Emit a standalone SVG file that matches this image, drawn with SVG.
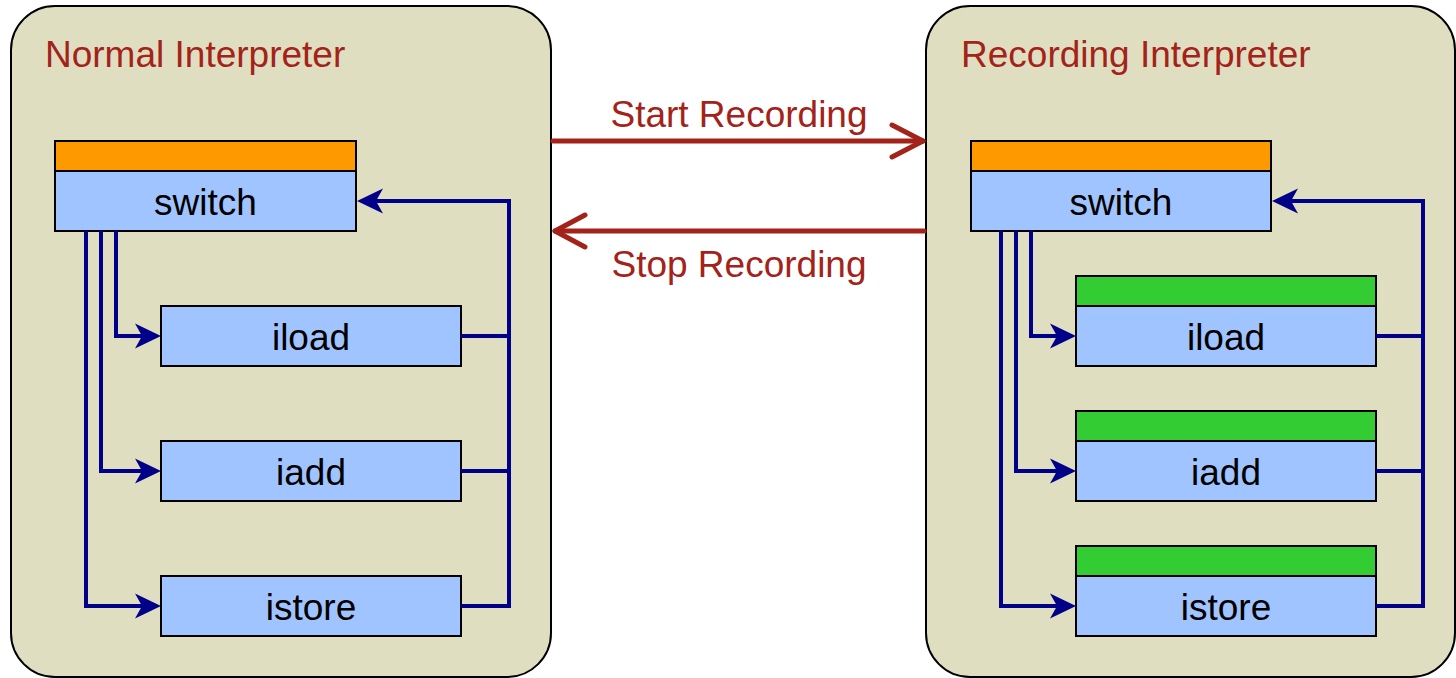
<svg xmlns="http://www.w3.org/2000/svg" width="1456" height="678" viewBox="0 0 1456 678">
  <defs>
    <style>
      .panel { fill: #E0DEC0; stroke: #000; stroke-width: 2; }
      .title { font-family: "Liberation Sans", Arial, sans-serif; font-size: 37px; fill: #A3231A; }
      .body { fill: #A0C4FF; stroke: #000; stroke-width: 2; }
      .hdr-orange { fill: #FF9900; stroke: #000; stroke-width: 2; }
      .hdr-green { fill: #33CC33; stroke: #000; stroke-width: 2; }
      .label { font-family: "Liberation Sans", Arial, sans-serif; font-size: 37px; fill: #000; text-anchor: middle; }
      .flow { fill: none; stroke: #000088; stroke-width: 4; }
      .mode { fill: none; stroke: #A3231A; stroke-width: 5; stroke-linecap: round; stroke-linejoin: round; }
      .mode-label { font-family: "Liberation Sans", Arial, sans-serif; font-size: 37px; fill: #A3231A; text-anchor: middle; }
    </style>
    <!-- filled notched arrowhead; the path ends at the notch, the tip sits 19px further on -->
    <marker id="head" markerUnits="userSpaceOnUse" markerWidth="40" markerHeight="40" refX="0" refY="0" orient="auto" overflow="visible">
      <path d="M19,0 L-7,-12.5 L0,0 L-7,12.5 Z" fill="#000088"/>
    </marker>
  </defs>

  <!-- interpreter panels -->
  <g id="normal-interpreter">
    <rect class="panel" x="11" y="6" width="540" height="671" rx="44" ry="44"/>
    <text class="title" x="45" y="67">Normal Interpreter</text>
  </g>
  <g id="recording-interpreter">
    <rect class="panel" x="926" y="6" width="529" height="671" rx="44" ry="44"/>
    <text class="title" x="961" y="67">Recording Interpreter</text>
  </g>

  <!-- normal interpreter handlers -->
  <g id="n-switch">
    <rect class="hdr-orange" x="55" y="141" width="301" height="30"/>
    <rect class="body" x="55" y="171" width="301" height="60"/>
    <text class="label" x="205.5" y="215">switch</text>
  </g>
  <g id="n-iload">
    <rect class="body" x="161" y="306" width="300" height="60"/>
    <text class="label" x="311" y="350">iload</text>
  </g>
  <g id="n-iadd">
    <rect class="body" x="161" y="441" width="300" height="60"/>
    <text class="label" x="311" y="485">iadd</text>
  </g>
  <g id="n-istore">
    <rect class="body" x="161" y="576" width="300" height="60"/>
    <text class="label" x="311" y="620">istore</text>
  </g>

  <!-- recording interpreter handlers -->
  <g id="r-switch">
    <rect class="hdr-orange" x="971" y="141" width="300" height="30"/>
    <rect class="body" x="971" y="171" width="300" height="60"/>
    <text class="label" x="1121" y="215">switch</text>
  </g>
  <g id="r-iload">
    <rect class="hdr-green" x="1076" y="276" width="300" height="30"/>
    <rect class="body" x="1076" y="306" width="300" height="60"/>
    <text class="label" x="1226" y="350">iload</text>
  </g>
  <g id="r-iadd">
    <rect class="hdr-green" x="1076" y="411" width="300" height="30"/>
    <rect class="body" x="1076" y="441" width="300" height="60"/>
    <text class="label" x="1226" y="485">iadd</text>
  </g>
  <g id="r-istore">
    <rect class="hdr-green" x="1076" y="546" width="300" height="30"/>
    <rect class="body" x="1076" y="576" width="300" height="60"/>
    <text class="label" x="1226" y="620">istore</text>
  </g>

  <!-- connectors -->
  <g id="connectors">
    <!-- normal: dispatch -->
    <path class="flow" d="M116,231 V336 H142" marker-end="url(#head)"/>
    <path class="flow" d="M101,231 V471 H142" marker-end="url(#head)"/>
    <path class="flow" d="M86,231 V606 H142" marker-end="url(#head)"/>
    <!-- normal: return to switch -->
    <path class="flow" d="M461,336 H509"/>
    <path class="flow" d="M461,471 H509"/>
    <path class="flow" d="M461,606 H509 V201 H376" marker-end="url(#head)"/>

    <!-- recording: dispatch -->
    <path class="flow" d="M1031,231 V336 H1057" marker-end="url(#head)"/>
    <path class="flow" d="M1016,231 V471 H1057" marker-end="url(#head)"/>
    <path class="flow" d="M1001,231 V606 H1057" marker-end="url(#head)"/>
    <!-- recording: return to switch -->
    <path class="flow" d="M1376,336 H1423"/>
    <path class="flow" d="M1376,471 H1423"/>
    <path class="flow" d="M1376,606 H1423 V201 H1291" marker-end="url(#head)"/>

    <!-- mode transitions -->
    <g id="start-recording">
      <path class="mode" d="M553,141 H923"/>
      <path class="mode" d="M892,125 L923,141 L892,157"/>
      <text class="mode-label" x="739" y="127">Start Recording</text>
    </g>
    <g id="stop-recording">
      <path class="mode" d="M924,231 H555"/>
      <path class="mode" d="M585,215 L555,231 L585,247"/>
      <text class="mode-label" x="739" y="277">Stop Recording</text>
    </g>
  </g>
</svg>
